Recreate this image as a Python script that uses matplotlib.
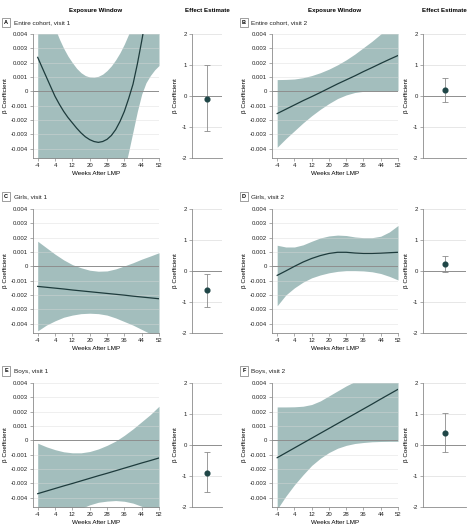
import numpy as np
import matplotlib
matplotlib.use("Agg")
import matplotlib.pyplot as plt

plt.rcParams['font.family'] = ['Liberation Sans', 'DejaVu Sans']

# ----------------------------
# Data (beta coefficients in units of 0.001)
# ----------------------------
weeks = [-4, 0, 4, 8, 12, 16, 20, 24, 28, 32, 36, 40, 44, 48, 52]
# panel A is more curved, read every 2 weeks
weeks_a = [-4, -2, 0, 2, 4, 6, 8, 10, 12, 14, 16, 18, 20, 22, 24, 26, 28,
           30, 32, 34, 36, 38, 40, 42, 44, 46, 48, 50, 52]

panel_letters = ["A", "B", "C", "D", "E", "F"]
panel_titles = ["Entire cohort, visit 1", "Entire cohort, visit 2",
                "Girls, visit 1", "Girls, visit 2",
                "Boys, visit 1", "Boys, visit 2"]

est_a = [2.37, 1.68, 1.0, 0.32, -0.35, -0.9, -1.4, -1.83, -2.2, -2.57, -2.9, -3.17, -3.37, -3.5, -3.56,
         -3.5, -3.35, -3.08, -2.67, -2.1, -1.4, -0.5, 0.5, 1.9, 3.5, 5.2, 7.0, 9.0, 11.0]
upr_a = [9.5, 8.0, 6.6, 5.4, 4.4, 3.65, 3.0, 2.45, 2.0, 1.6, 1.3, 1.1, 1.0, 0.98, 1.05,
         1.2, 1.45, 1.78, 2.2, 2.7, 3.3, 4.0, 4.8, 5.65, 6.6, 7.6, 8.8, 10.0, 11.3]
lwr_a = [-9.0, -9.2, -9.5, -9.8, -10.0, -10.2, -10.5, -10.5, -10.5, -10.2, -10.0, -9.8, -9.5, -9.0, -8.5,
         -8.0, -7.5, -7.2, -7.0, -6.3, -5.5, -4.2, -2.8, -1.4, -0.2, 0.6, 1.1, 1.5, 1.8]

est_b = [-1.55, -1.25, -0.95, -0.65, -0.37, -0.08, 0.22, 0.52, 0.8, 1.08, 1.38, 1.66, 1.95, 2.23, 2.5]
upr_b = [0.82, 0.83, 0.86, 0.95, 1.1, 1.3, 1.55, 1.85, 2.2, 2.6, 3.05, 3.5, 4.0, 4.6, 5.2]
lwr_b = [-3.9, -3.3, -2.75, -2.2, -1.7, -1.25, -0.85, -0.5, -0.25, -0.08, 0.0, 0.03, 0.04, 0.04, 0.04]

est_c = [-1.4, -1.46, -1.52, -1.58, -1.65, -1.71, -1.77, -1.83, -1.89, -1.95, -2.01, -2.08, -2.14, -2.2, -2.26]
upr_c = [1.75, 1.3, 0.85, 0.45, 0.12, -0.1, -0.27, -0.34, -0.32, -0.18, 0.03, 0.25, 0.5, 0.72, 0.95]
lwr_c = [-4.5, -4.1, -3.8, -3.55, -3.4, -3.3, -3.27, -3.3, -3.4, -3.6, -3.85, -4.1, -4.4, -4.7, -5.0]

est_d = [-0.63, -0.32, 0.0, 0.3, 0.55, 0.75, 0.9, 0.98, 0.98, 0.93, 0.9, 0.9, 0.92, 0.95, 0.98]
upr_d = [1.47, 1.35, 1.35, 1.5, 1.75, 1.98, 2.12, 2.18, 2.15, 2.05, 2.0, 2.0, 2.1, 2.4, 2.85]
lwr_d = [-2.75, -2.0, -1.5, -1.1, -0.8, -0.6, -0.45, -0.35, -0.3, -0.3, -0.32, -0.38, -0.5, -0.7, -0.95]

est_e = [-3.72, -3.54, -3.36, -3.18, -3.01, -2.83, -2.65, -2.47, -2.3, -2.12, -1.94, -1.76, -1.58, -1.41, -1.23]
upr_e = [-0.2, -0.45, -0.65, -0.8, -0.87, -0.87, -0.78, -0.6, -0.35, -0.05, 0.35, 0.8, 1.3, 1.8, 2.38]
lwr_e = [-7.2, -6.6, -6.0, -5.5, -5.1, -4.75, -4.5, -4.32, -4.24, -4.2, -4.25, -4.38, -4.6, -4.9, -5.2]

est_f = [-1.21, -0.87, -0.53, -0.19, 0.15, 0.49, 0.83, 1.17, 1.51, 1.85, 2.19, 2.53, 2.88, 3.22, 3.56]
upr_f = [2.33, 2.33, 2.34, 2.38, 2.5, 2.75, 3.1, 3.45, 3.8, 4.1, 4.6, 5.1, 5.6, 6.1, 6.6]
lwr_f = [-4.8, -3.9, -3.1, -2.4, -1.75, -1.25, -0.85, -0.55, -0.35, -0.22, -0.15, -0.1, -0.08, -0.07, -0.07]

week_sets = [weeks_a, weeks, weeks, weeks, weeks, weeks]
estimates = [est_a, est_b, est_c, est_d, est_e, est_f]
uppers = [upr_a, upr_b, upr_c, upr_d, upr_e, upr_f]
lowers = [lwr_a, lwr_b, lwr_c, lwr_d, lwr_e, lwr_f]

# overall effect estimate: point, lower CI, upper CI
effect_point = [-0.11, 0.2, -0.62, 0.22, -0.89, 0.4]
effect_low = [-1.13, -0.18, -1.15, -0.03, -1.52, -0.23]
effect_high = [1.0, 0.58, -0.11, 0.47, -0.24, 1.03]

x_ticks = [-4, 4, 12, 20, 28, 36, 44, 52]
y_ticks = [-0.004, -0.003, -0.002, -0.001, 0, 0.001, 0.002, 0.003, 0.004]
y_ticklabels = ["-0.004", "-0.003", "-0.002", "-0.001", "0", "0.001", "0.002", "0.003", "0.004"]
eff_ticks = [-2, -1, 0, 1, 2]
eff_ticklabels = ["-2", "-1", "0", "1", "2"]

# ----------------------------
# Styling
# ----------------------------
W, H = 467, 532
FILL = "#a3bebd"
LINE = "#1d3b3c"
DOT = "#1f4647"
SPINE = "#8a8a8a"
GRID = "#e3e3e3"
ZERO = "#8e8e8e"
FS = 4.3

fig = plt.figure(figsize=(W / 100, H / 100), dpi=100)


def px_axes(l, t, r, b):
    return fig.add_axes([l / W, 1 - b / H, (r - l) / W, (b - t) / H])


def style(ax):
    for s in ["top", "right"]:
        ax.spines[s].set_visible(False)
    for s in ["left", "bottom"]:
        ax.spines[s].set_color(SPINE)
        ax.spines[s].set_linewidth(0.6)
    ax.tick_params(length=2, width=0.5, color=SPINE, labelsize=FS, pad=1.5, labelcolor="#222222")


col_main = [(32.5, 159), (272, 398)]
col_eff = [(192, 222), (423, 466)]
row_y = [(34, 158), (209, 333), (383, 507)]
label_y = [22.7, 196.7, 371]
panel_x = [(6, 13.5), (244, 251)]

for i in range(6):
    r, c = divmod(i, 2)
    t, b = row_y[r]

    # exposure window panel
    l, rr = col_main[c]
    ax = px_axes(l, t, rr, b)
    style(ax)
    x = np.array(week_sets[i])
    ax.fill_between(x, np.array(lowers[i]) * 1e-3, np.array(uppers[i]) * 1e-3,
                    color=FILL, lw=0, zorder=1)
    for yt in y_ticks:
        if yt == 0:
            ax.axhline(0, color=ZERO, lw=0.7, zorder=2)
        else:
            ax.axhline(yt, color="#d9d9d9", lw=0.5, alpha=0.6, zorder=2)
    ax.plot(x, np.array(estimates[i]) * 1e-3, color=LINE, lw=0.9, zorder=3)
    ax.set_xlim(-6.4, 52)
    ax.set_ylim(-0.00465, 0.004)
    ax.set_xticks(x_ticks)
    ax.set_xticklabels([str(v) for v in x_ticks])
    ax.set_yticks(y_ticks)
    ax.set_yticklabels(y_ticklabels)
    ax.set_xlabel("Weeks After LMP", fontsize=FS + 0.2, labelpad=2)
    ax.set_ylabel("β Coefficient", fontsize=FS + 0.2, labelpad=2)
    if r == 0:
        ax.set_title("Exposure Window", fontsize=FS + 0.1, fontweight="bold", pad=16)

    # effect estimate panel
    l2, r2 = col_eff[c]
    ax2 = px_axes(l2, t, r2, b)
    style(ax2)
    for yt in eff_ticks:
        if yt == 0:
            ax2.axhline(0, color=ZERO, lw=0.7, zorder=1)
        elif yt != -2:
            ax2.axhline(yt, color=GRID, lw=0.6, zorder=1)
    pt = effect_point[i]
    ax2.errorbar([0], [pt],
                 yerr=[[pt - effect_low[i]], [effect_high[i] - pt]],
                 fmt="o", color=DOT, ms=3.4, ecolor="#8c8c8c", elinewidth=0.6,
                 capsize=2, capthick=0.6, zorder=3)
    ax2.set_xlim(-1, 1)
    ax2.set_ylim(-2, 2)
    ax2.set_xticks([])
    ax2.set_yticks(eff_ticks)
    ax2.set_yticklabels(eff_ticklabels)
    ax2.set_ylabel("β Coefficient", fontsize=FS + 0.2, labelpad=3)
    if r == 0:
        ax2.set_title("Effect Estimate", fontsize=FS + 0.1, fontweight="bold", pad=16)

    # panel label
    bx, tx = panel_x[c]
    fig.text(bx / W, 1 - label_y[r] / H, panel_letters[i], fontsize=FS - 0.3,
             fontweight="bold", ha="center", va="center",
             bbox=dict(boxstyle="square,pad=0.4", fc="white", ec="#777777", lw=0.5))
    fig.text(tx / W, 1 - label_y[r] / H, panel_titles[i], fontsize=FS + 0.3,
             ha="left", va="center", color="#222222")

fig.savefig("out.png", dpi=100)
